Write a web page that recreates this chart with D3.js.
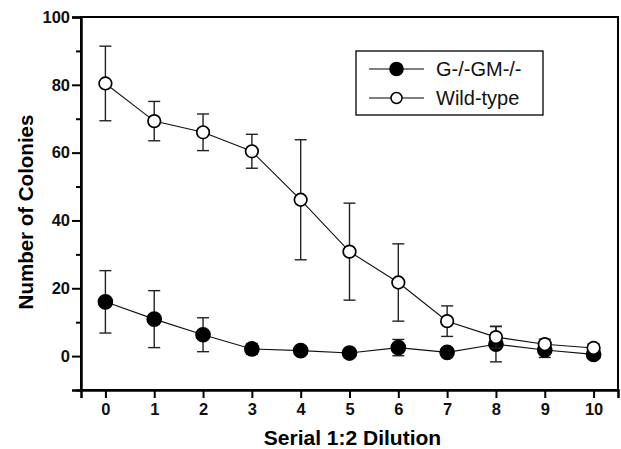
<!DOCTYPE html>
<html lang="en">
<head>
    <meta charset="UTF-8">
    <title>Number of Colonies vs Serial Dilution</title>
    <script src="https://d3js.org/d3.v7.min.js"></script>
    <style>
        body { margin: 0; background: #fff; }
        svg { display: block; font-family: "Liberation Sans", Arial, sans-serif; }
        .tick text { font-weight: bold; font-size: 16.5px; fill: #111; }
    </style>
</head>
<body>
    <svg id="chart" width="621" height="449"></svg>

    <script>
        // Data
        const dilutions = [0, 1, 2, 3, 4, 5, 6, 7, 8, 9, 10];
        const wildMean  = [80.4, 69.3, 66.0, 60.4, 46.1, 30.8, 21.7, 10.3, 5.6, 3.5, 2.4];
        const wildErr   = [11.0, 5.8, 5.4, 5.0, 17.7, 14.3, 11.4, 4.5, 3.2, 1.5, 1.2];
        const gmMean    = [16.0, 10.9, 6.3, 2.1, 1.6, 0.9, 2.5, 1.1, 3.5, 1.8, 0.5];
        const gmErr     = [9.2, 8.4, 5.0, 1.6, 0.8, 0.6, 2.4, 0.6, 5.2, 2.2, 1.0];
        const yMajor    = [0, 20, 40, 60, 80, 100];
        const yMinor    = [-10, 10, 30, 50, 70, 90];
        const legendLabels = ["G-/-GM-/-", "Wild-type"];

        const margin = { left: 81, right: 3, top: 17, bottom: 59 };
        const width = 621, height = 449;
        const svg = d3.select("#chart");

        const x = d3.scaleLinear().domain([-0.5, 10.5]).range([margin.left, width - margin.right]);
        const y = d3.scaleLinear().domain([-10, 100]).range([height - margin.bottom, margin.top]);

        // frame (top and right)
        svg.append("rect")
            .attr("x", x(-0.5)).attr("y", y(100))
            .attr("width", x(10.5) - x(-0.5)).attr("height", y(-10) - y(100))
            .attr("fill", "none").attr("stroke", "#000").attr("stroke-width", 2);

        // y axis, major and minor ticks
        const yAxis = svg.append("g")
            .attr("transform", `translate(${x(-0.5)},0)`)
            .call(d3.axisLeft(y).tickValues(yMajor).tickSize(9).tickPadding(2).tickFormat(d3.format("d")));
        yAxis.select(".domain").attr("stroke-width", 2.5);
        yAxis.selectAll(".tick line").attr("stroke-width", 2);
        svg.append("g")
            .attr("transform", `translate(${x(-0.5)},0)`)
            .call(d3.axisLeft(y).tickValues(yMinor).tickSize(5).tickFormat(""))
            .call(g => g.select(".domain").remove())
            .selectAll(".tick line").attr("stroke-width", 2);

        // x axis
        const xAxis = svg.append("g")
            .attr("transform", `translate(0,${y(-10)})`)
            .call(d3.axisBottom(x).tickValues(dilutions).tickSize(8).tickPadding(5).tickFormat(d3.format("d")));
        xAxis.select(".domain").attr("stroke-width", 2.5);
        xAxis.selectAll(".tick line").attr("stroke-width", 2);

        // axis titles
        svg.append("text")
            .attr("x", (x(-0.5) + x(10.5)) / 2 + 3).attr("y", 445)
            .attr("text-anchor", "middle")
            .attr("font-weight", "bold").attr("font-size", 21)
            .text("Serial 1:2 Dilution");
        svg.append("text")
            .attr("transform", `translate(33,212) rotate(-90)`)
            .attr("text-anchor", "middle")
            .attr("font-weight", "bold").attr("font-size", 20.5)
            .text("Number of Colonies");

        const line = d3.line().x((d, i) => x(dilutions[i])).y(d => y(d));

        function drawSeries(means, errs, filled) {
            const g = svg.append("g");
            g.append("path")
                .datum(means)
                .attr("d", line)
                .attr("fill", "none").attr("stroke", "#111").attr("stroke-width", 1.1);

            const bars = g.selectAll(".err").data(means).join("g");
            bars.append("line")
                .attr("x1", (d, i) => x(dilutions[i])).attr("x2", (d, i) => x(dilutions[i]))
                .attr("y1", (d, i) => y(d - errs[i])).attr("y2", (d, i) => y(d + errs[i]));
            bars.append("line")
                .attr("x1", (d, i) => x(dilutions[i]) - 6).attr("x2", (d, i) => x(dilutions[i]) + 6)
                .attr("y1", (d, i) => y(d + errs[i])).attr("y2", (d, i) => y(d + errs[i]));
            bars.append("line")
                .attr("x1", (d, i) => x(dilutions[i]) - 6).attr("x2", (d, i) => x(dilutions[i]) + 6)
                .attr("y1", (d, i) => y(d - errs[i])).attr("y2", (d, i) => y(d - errs[i]));
            bars.selectAll("line").attr("stroke", "#222").attr("stroke-width", 1.4);

            g.selectAll("circle").data(means).join("circle")
                .attr("cx", (d, i) => x(dilutions[i]))
                .attr("cy", d => y(d))
                .attr("r", filled ? 7 : 6.3)
                .attr("fill", filled ? "#000" : "#fff")
                .attr("stroke", "#000").attr("stroke-width", 1.7);
        }

        drawSeries(gmMean, gmErr, true);
        drawSeries(wildMean, wildErr, false);

        // legend
        const legend = svg.append("g");
        legend.append("rect")
            .attr("x", 356).attr("y", 51).attr("width", 187).attr("height", 64)
            .attr("fill", "#fff").attr("stroke", "#000").attr("stroke-width", 1.3);
        legendLabels.forEach((label, i) => {
            const ly = 69 + i * 29;
            legend.append("line")
                .attr("x1", 369).attr("x2", 424).attr("y1", ly).attr("y2", ly)
                .attr("stroke", "#000").attr("stroke-width", 1.2);
            legend.append("circle")
                .attr("cx", 396.5).attr("cy", ly).attr("r", i === 0 ? 6.5 : 5.5)
                .attr("fill", i === 0 ? "#000" : "#fff")
                .attr("stroke", "#000").attr("stroke-width", 1.5);
            legend.append("text")
                .attr("x", 436).attr("y", ly + 7)
                .attr("font-size", 20).attr("fill", "#111")
                .text(label);
        });
    </script>
</body>
</html>
